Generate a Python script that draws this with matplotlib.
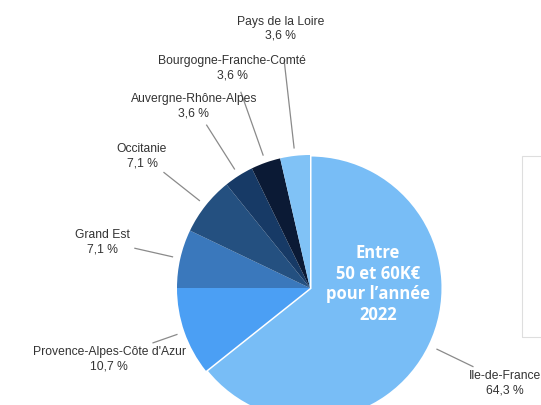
import numpy as np
import matplotlib.pyplot as plt
from matplotlib.patches import Rectangle

# data
regions = ["Ile-de-France", "Provence-Alpes-Côte d'Azur", "Grand Est", "Occitanie",
           "Auvergne-Rhône-Alpes", "Bourgogne-Franche-Comté", "Pays de la Loire"]
shares = [64.3, 10.7, 7.1, 7.1, 3.6, 3.6, 3.6]
pct_labels = ["64,3 %", "10,7 %", "7,1 %", "7,1 %", "3,6 %", "3,6 %", "3,6 %"]
colors = ["#78bdf6", "#4b9ff4", "#3a78bc", "#245080", "#173a66", "#0b1a35", "#80c2f6"]
center_text = "Entre\n50 et 60K€\npour l’année\n2022"

# layout: radii (in pie radii) of the leader line ends and of the labels
line_out = [1.36, 1.25, 1.35, 1.40, 1.45, 1.56, 1.72]
text_r = [1.63, 1.60, 1.60, 1.61, 1.63, 1.76, 1.97]

W, H = 541, 406
fig = plt.figure(figsize=(W / 100, H / 100), dpi=100)
ax = fig.add_axes([0, 0, 1, 1])

cx, cy, r = 310, H - 289, 133
wedges, _ = ax.pie(shares, colors=colors, startangle=90, counterclock=False,
                   center=(cx, cy), radius=r, wedgeprops=dict(linewidth=0))
wedges[0].set_edgecolor("white")
wedges[0].set_linewidth(2.2)

ax.set_xlim(0, W)
ax.set_ylim(0, H)
ax.set_aspect("equal")
ax.axis("off")

# labels with leader lines
for i, w in enumerate(wedges):
    mid = np.deg2rad((w.theta1 + w.theta2) / 2)
    c, s = np.cos(mid), np.sin(mid)
    ax.plot([cx + 1.06 * r * c, cx + line_out[i] * r * c],
            [cy + 1.06 * r * s, cy + line_out[i] * r * s],
            color="#8a8a8a", lw=0.9, clip_on=False)
    ax.text(cx + text_r[i] * r * c, cy + text_r[i] * r * s,
            regions[i] + "\n" + pct_labels[i], ha="center", va="center",
            fontsize=8.7, family="Liberation Sans", color="#333333", linespacing=1.25)

ax.text(378, H - 284, center_text, ha="center", va="center", color="white",
        fontsize=12, fontweight="bold", family="Open Sans", linespacing=1.18)

# faint box cut off at the right edge
ax.add_patch(Rectangle((522, H - 338), 40, 181, fill=False, edgecolor="#dedede",
                       linewidth=0.8, clip_on=False))

fig.savefig("out.png", dpi=100)
